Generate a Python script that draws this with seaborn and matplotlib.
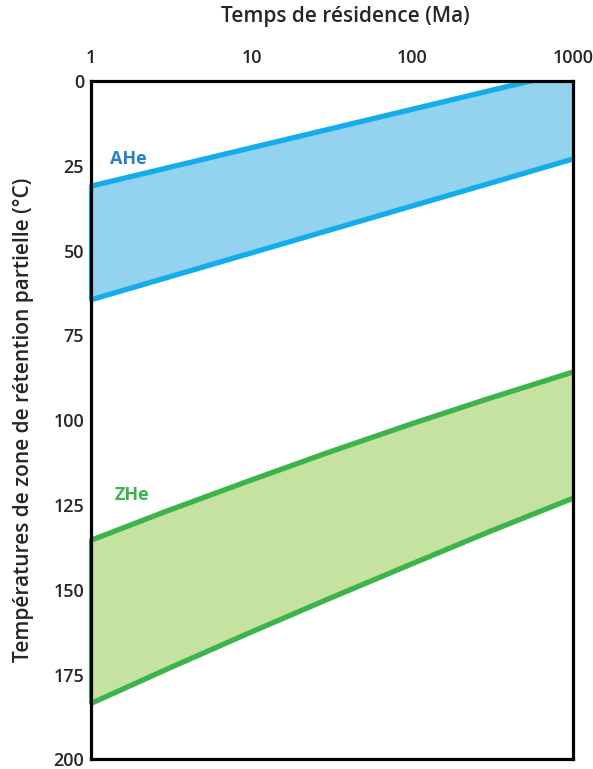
import numpy as np
import pandas as pd
import matplotlib
matplotlib.use("Agg")
import matplotlib.pyplot as plt
import seaborn as sns

# Données (temps en Ma, températures en °C)
ahe_time = [1, 1000]
ahe_low = [31, -3.0]      # bord froid de la bande AHe
ahe_high = [64.5, 23]     # bord chaud de la bande AHe

zhe_time = [1, 3, 10, 30, 100, 300, 1000]
zhe_low = [135.4, 126.7, 117.6, 109.5, 101.0, 93.6, 85.8]
zhe_high = [183.5, 173.3, 162.4, 152.7, 142.3, 132.9, 123.0]

x_ticks = [1, 10, 100, 1000]
y_ticks = [0, 25, 50, 75, 100, 125, 150, 175, 200]

BLUE_LINE = "#13ade9"
BLUE_FILL = "#93d3ef"
BLUE_TEXT = "#2b7fc3"
GREEN_LINE = "#3cb44a"
GREEN_FILL = "#c6e2a1"

sns.set_style("white")
plt.rcParams["font.family"] = ["Open Sans", "DejaVu Sans"]

df = pd.concat([
    pd.DataFrame({"t": ahe_time, "T": ahe_low, "courbe": "ahe_low"}),
    pd.DataFrame({"t": ahe_time, "T": ahe_high, "courbe": "ahe_high"}),
    pd.DataFrame({"t": zhe_time, "T": zhe_low, "courbe": "zhe_low"}),
    pd.DataFrame({"t": zhe_time, "T": zhe_high, "courbe": "zhe_high"}),
])
palette = {"ahe_low": BLUE_LINE, "ahe_high": BLUE_LINE,
           "zhe_low": GREEN_LINE, "zhe_high": GREEN_LINE}

fig = plt.figure(figsize=(5.93, 7.69), dpi=100)
ax = fig.add_axes([0.1535, 0.0125, 0.8128, 0.8822])
ax.set_xscale("log")

ax.fill_between(ahe_time, ahe_low, ahe_high, color=BLUE_FILL, lw=0, zorder=1)
ax.fill_between(zhe_time, zhe_low, zhe_high, color=GREEN_FILL, lw=0, zorder=1)
sns.lineplot(data=df, x="t", y="T", hue="courbe", palette=palette,
             linewidth=3.8, legend=False, ax=ax, zorder=2)
# bords verticaux des bandes
ax.plot([1000, 1000], [zhe_low[-1], zhe_high[-1]], color=GREEN_LINE, lw=2, zorder=2)
ax.plot([1, 1], [ahe_low[0], ahe_high[0]], color=BLUE_LINE, lw=3, zorder=2, clip_on=False)
ax.plot([1, 1], [zhe_low[0], zhe_high[0]], color=GREEN_LINE, lw=3, zorder=2, clip_on=False)

ax.set_xlim(1, 1000)
ax.set_ylim(200, 0)
ax.set_xticks(x_ticks)
ax.set_xticklabels([str(v) for v in x_ticks])
ax.set_yticks(y_ticks)
ax.minorticks_off()
ax.xaxis.tick_top()
ax.xaxis.set_label_position("top")
ax.tick_params(length=0, labelsize=13)
ax.tick_params(axis="x", pad=10)
ax.tick_params(axis="y", pad=5)
for lab in ax.get_xticklabels() + ax.get_yticklabels():
    lab.set_fontweight("semibold")

ax.set_xlabel("Temps de résidence (Ma)", fontsize=15, fontweight="semibold")
ax.set_ylabel("Températures de zone de rétention partielle (°C)", fontsize=15,
              fontweight="semibold")
ax.xaxis.set_label_coords(0.527, 1.095)
ax.yaxis.set_label_coords(-0.14, 0.5)
ax.xaxis.label.set_va("center")
ax.yaxis.label.set_va("center")

for sp in ax.spines.values():
    sp.set_visible(True)
    sp.set_color("black")
    sp.set_linewidth(2.3)
    sp.set_zorder(3)

ax.text(1.32, 23, "AHe", color=BLUE_TEXT, fontsize=13, fontweight="bold", va="center")
ax.text(1.40, 122, "ZHe", color=GREEN_LINE, fontsize=13, fontweight="bold", va="center")

fig.savefig("out.png", dpi=100)
